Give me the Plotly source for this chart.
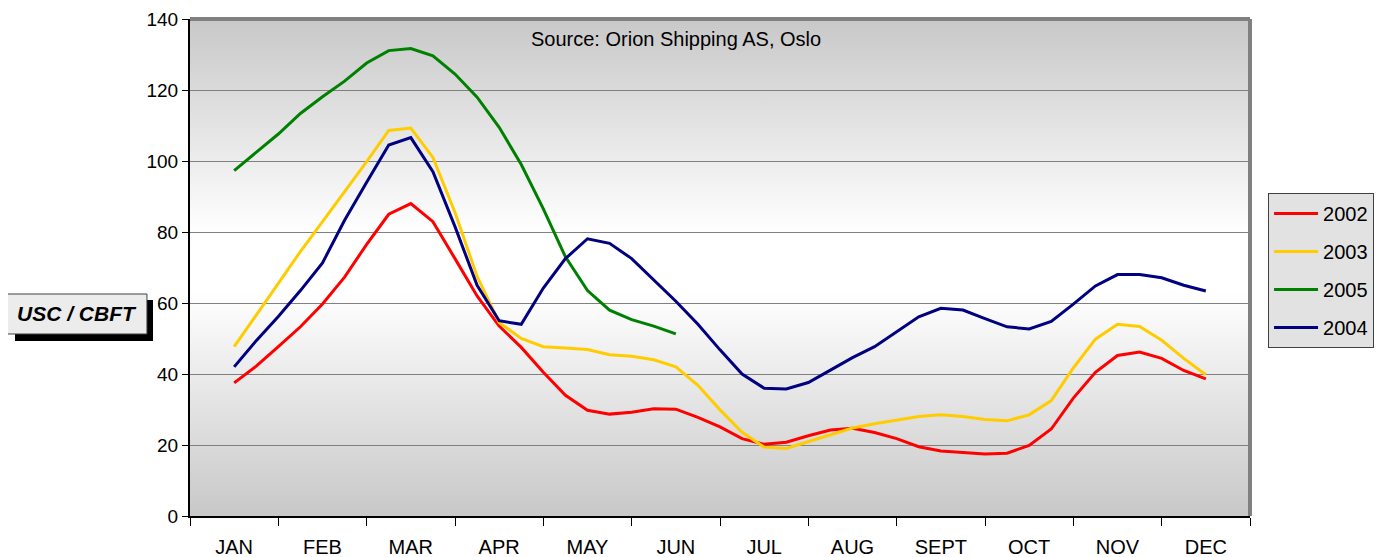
import base64
import plotly.graph_objects as go

months = ["JAN", "FEB", "MAR", "APR", "MAY", "JUN", "JUL", "AUG", "SEPT", "OCT", "NOV", "DEC"]
# weekly sample positions, in month units (0 = JAN ... 11 = DEC)
weeks = [i / 4 for i in range(45)]

y2002 = [37.5, 42.2, 47.7, 53.3, 59.7, 67.3, 76.5, 85.0, 88.0, 82.9, 72.5, 62.0, 53.5, 47.5, 40.5,
         34.0, 29.8, 28.7, 29.2, 30.2, 30.1, 27.8, 25.1, 21.8, 20.2, 20.8, 22.6, 24.2, 24.7, 23.5,
         21.8, 19.5, 18.3, 17.8, 17.5, 17.7, 19.9, 24.5, 33.2, 40.5, 45.2, 46.2, 44.4, 41.0, 38.6]
y2003 = [47.7, 56.5, 65.5, 74.5, 83.0, 91.2, 99.8, 108.6, 109.3, 101.0, 85.5, 67.5, 54.5, 50.0, 47.7,
         47.3, 46.9, 45.4, 45.0, 44.0, 42.0, 36.8, 29.9, 23.6, 19.4, 19.0, 21.0, 22.8, 24.8, 26.0,
         27.0, 28.0, 28.5, 28.0, 27.2, 26.8, 28.5, 32.5, 41.7, 49.8, 54.0, 53.4, 49.5, 44.4, 39.8]
y2005 = [97.3, 102.5, 107.6, 113.4, 118.1, 122.5, 127.6, 131.1, 131.7, 129.6, 124.5, 118.0, 109.5, 99.0, 86.5,
         73.0, 63.5, 58.0, 55.3, 53.5, 51.3]
y2004 = [42.0, 49.4, 56.2, 63.5, 71.3, 83.3, 94.0, 104.5, 106.6, 97.0, 81.5, 65.0, 55.0, 54.0, 64.2,
         72.5, 78.1, 76.8, 72.5, 66.5, 60.5, 54.0, 46.8, 40.0, 36.0, 35.8, 37.6, 41.1, 44.6, 47.7,
         51.8, 56.1, 58.5, 58.0, 55.6, 53.3, 52.7, 54.8, 59.7, 64.8, 68.0, 68.0, 67.1, 65.0, 63.4]

series = [
    ("2002", y2002, "#ff0000"),
    ("2003", y2003, "#ffcc00"),
    ("2005", y2005, "#008000"),
    ("2004", y2004, "#000080"),
]

FONT = "Arial, 'Liberation Sans', sans-serif"

fig = go.Figure()
for name, vals, color in series:
    fig.add_trace(go.Scatter(
        x=weeks[:len(vals)], y=vals, name=name, mode="lines",
        line=dict(color=color, width=3), legendgroup=name,
    ))

svg = ('<svg xmlns="http://www.w3.org/2000/svg" width="10" height="100" preserveAspectRatio="none">'
       '<defs><linearGradient id="g" x1="0" y1="0" x2="0" y2="1">'
       '<stop offset="0" stop-color="#c8c8c8"/>'
       '<stop offset="0.43" stop-color="#ffffff"/>'
       '<stop offset="0.55" stop-color="#ffffff"/>'
       '<stop offset="1" stop-color="#c8c8c8"/>'
       '</linearGradient></defs><rect width="10" height="100" fill="url(#g)"/></svg>')
uri = "data:image/svg+xml;base64," + base64.b64encode(svg.encode()).decode()

# the page body adds an 8px offset, so the figure is 8px smaller than the window
fig.update_layout(
    width=1378, height=549,
    margin=dict(l=182, r=136, t=11, b=41, autoexpand=False),
    paper_bgcolor="white", plot_bgcolor="rgba(0,0,0,0)",
    font=dict(family=FONT, size=19, color="black"),
    images=[dict(source=uri, xref="paper", yref="paper", x=0, y=1, sizex=1, sizey=1,
                 sizing="stretch", layer="below", xanchor="left", yanchor="top")],
    xaxis=dict(
        range=[-0.5, 11.5], tickvals=list(range(12)), ticktext=months,
        ticks="outside", ticklen=12, tickcolor="rgba(0,0,0,0)",
        minor=dict(tickvals=[i - 0.5 for i in range(13)], ticks="outside", ticklen=8,
                   tickcolor="black", tickwidth=1, showgrid=False),
        showgrid=False, zeroline=False, showline=True, linecolor="black", linewidth=2,
        tickfont=dict(size=20), automargin=False,
    ),
    yaxis=dict(
        range=[0, 140], tickvals=[0, 20, 40, 60, 80, 100, 120, 140],
        ticks="outside", ticklen=6, tickcolor="black",
        showgrid=True, gridcolor="#808080", gridwidth=1, zeroline=False,
        showline=True, linecolor="black", linewidth=2, tickfont=dict(size=19),
        automargin=False,
    ),
    legend=dict(
        xref="container", yref="container",
        x=0.9144, y=0.663, xanchor="left", yanchor="top",
        bgcolor="#e2e2e2", bordercolor="#404040", borderwidth=1,
        font=dict(size=20), tracegroupgap=9, itemwidth=44,
    ),
    shapes=[
        dict(type="line", xref="paper", yref="paper", x0=0, x1=1, y0=1, y1=1,
             line=dict(color="#808080", width=4)),
        dict(type="line", xref="paper", yref="paper", x0=1, x1=1, y0=0, y1=1,
             line=dict(color="#808080", width=4)),
        # y-axis title box shadow and box
        dict(type="rect", xref="paper", yref="paper", x0=-0.1651, x1=-0.0349, y0=0.3521, y1=0.4346,
             fillcolor="black", line=dict(width=0)),
        dict(type="rect", xref="paper", yref="paper", x0=-0.1726, x1=-0.0406, y0=0.3662, y1=0.4467,
             fillcolor="#ececec", line=dict(color="#404040", width=1)),
    ],
    annotations=[
        dict(text="Source: Orion Shipping AS, Oslo", xref="paper", yref="paper",
             x=0.4585, y=0.96, xanchor="center", yanchor="middle", showarrow=False,
             font=dict(size=20)),
        dict(text="<b><i>USC / CBFT</i></b>", xref="paper", yref="paper",
             x=-0.1066, y=0.4065, xanchor="center", yanchor="middle", showarrow=False,
             font=dict(size=21)),
    ],
)

fig.write_html("out.html")
